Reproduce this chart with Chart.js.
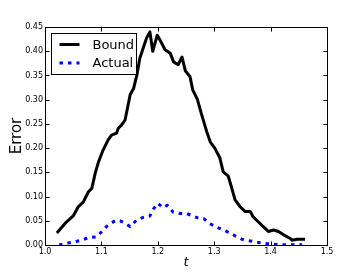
<!DOCTYPE html>
<html>
<head>
<meta charset="utf-8">
<script src="https://cdn.jsdelivr.net/npm/chart.js@4.4.0/dist/chart.umd.min.js"></script>
<style>
html, body { margin: 0; padding: 0; background: #fff; }
#wrap { width: 363px; height: 273px; }
</style>
</head>
<body>
<div id="wrap"><canvas id="c" width="363" height="273"></canvas></div>
<script>
// values
const boundT = [1.021, 1.036, 1.050, 1.059, 1.068, 1.077, 1.083, 1.089, 1.095, 1.103, 1.112, 1.118, 1.127, 1.130, 1.136,
    1.142, 1.151, 1.157, 1.163, 1.168, 1.174, 1.180, 1.186, 1.191, 1.199, 1.204, 1.213, 1.222, 1.228, 1.236, 1.243,
    1.249, 1.257, 1.262, 1.270, 1.278, 1.287, 1.293, 1.301, 1.310, 1.316, 1.325, 1.331, 1.337, 1.346, 1.355, 1.364,
    1.369, 1.378, 1.387, 1.396, 1.405, 1.414, 1.423, 1.434, 1.438, 1.447, 1.461];
const boundY = [0.025, 0.045, 0.060, 0.079, 0.089, 0.110, 0.117, 0.148, 0.172, 0.196, 0.217, 0.227, 0.231, 0.241, 0.248,
    0.258, 0.310, 0.323, 0.351, 0.385, 0.406, 0.427, 0.440, 0.400, 0.433, 0.423, 0.403, 0.396, 0.378, 0.372, 0.388,
    0.359, 0.348, 0.320, 0.301, 0.268, 0.233, 0.213, 0.200, 0.180, 0.151, 0.142, 0.118, 0.093, 0.079, 0.069, 0.069,
    0.058, 0.048, 0.038, 0.028, 0.031, 0.028, 0.021, 0.014, 0.010, 0.012, 0.012];

const actualT = [1.025, 1.041, 1.062, 1.077, 1.092, 1.101, 1.109, 1.117, 1.126, 1.133, 1.142, 1.151, 1.163, 1.174,
    1.186, 1.192, 1.200, 1.209, 1.217, 1.227, 1.239, 1.251, 1.260, 1.271, 1.282, 1.291, 1.302, 1.314, 1.326, 1.337,
    1.349, 1.361, 1.375, 1.393, 1.411, 1.429, 1.456];
const actualY = [0.000, 0.004, 0.009, 0.015, 0.017, 0.028, 0.038, 0.045, 0.051, 0.050, 0.045, 0.038, 0.052, 0.057,
    0.060, 0.074, 0.086, 0.077, 0.082, 0.068, 0.065, 0.065, 0.061, 0.056, 0.054, 0.045, 0.038, 0.032, 0.026, 0.019,
    0.012, 0.009, 0.006, 0.003, 0.001, 0.0004, 0.0004];

const xTicks = [1.0, 1.1, 1.2, 1.3, 1.4, 1.5];
const yTicks = [0.00, 0.05, 0.10, 0.15, 0.20, 0.25, 0.30, 0.35, 0.40, 0.45];

const seriesNames = ['Bound', 'Actual'];
const seriesColors = ['#000000', '#0000ff'];
const dotDash = [3.5, 5];

// frame, inward ticks (matplotlib style) and the boxed legend
const mplDecor = {
    id: 'mplDecor',
    afterDraw(chart) {
        const ctx = chart.ctx;
        const a = chart.chartArea;
        const xs = chart.scales.x, ys = chart.scales.y;
        const L = Math.round(a.left) + 0.5, R = Math.round(a.right) + 0.5;
        const T = Math.round(a.top) + 0.5, B = Math.round(a.bottom) + 0.5;
        ctx.save();
        ctx.strokeStyle = '#000';
        ctx.lineWidth = 1;
        ctx.strokeRect(L, T, R - L, B - T);
        ctx.beginPath();
        xTicks.forEach(v => {
            const px = Math.round(xs.getPixelForValue(v)) + 0.5;
            ctx.moveTo(px, B); ctx.lineTo(px, B - 4);
            ctx.moveTo(px, T); ctx.lineTo(px, T + 4);
        });
        yTicks.forEach(v => {
            const py = Math.round(ys.getPixelForValue(v)) + 0.5;
            ctx.moveTo(L, py); ctx.lineTo(L + 4, py);
            ctx.moveTo(R, py); ctx.lineTo(R - 4, py);
        });
        ctx.stroke();

        // legend
        const bx = L + 6, by = T + 6, bw = 85, bh = 41;
        ctx.fillStyle = '#fff';
        ctx.fillRect(bx, by, bw, bh);
        ctx.strokeRect(bx, by, bw, bh);
        ctx.font = '13px "DejaVu Sans"';
        ctx.textBaseline = 'middle';
        seriesNames.forEach((name, i) => {
            const y = by + 11 + i * 18.5;
            ctx.beginPath();
            ctx.strokeStyle = seriesColors[i];
            ctx.lineWidth = 3;
            ctx.setLineDash(i === 1 ? dotDash : []);
            ctx.moveTo(bx + 8, y);
            ctx.lineTo(bx + 28, y);
            ctx.stroke();
            ctx.setLineDash([]);
            ctx.fillStyle = '#000';
            ctx.fillText(name, bx + 41, y + 1);
        });
        ctx.restore();
    }
};

const toPoints = (ts, ys) => ts.map((t, i) => ({ x: t, y: ys[i] }));

new Chart(document.getElementById('c'), {
    type: 'line',
    data: {
        datasets: [
            { label: seriesNames[0], data: toPoints(boundT, boundY), borderColor: seriesColors[0], borderWidth: 3, borderJoinStyle: 'round', pointRadius: 0, tension: 0, fill: false },
            { label: seriesNames[1], data: toPoints(actualT, actualY), borderColor: seriesColors[1], borderWidth: 3, borderJoinStyle: 'round', borderDash: dotDash, pointRadius: 0, tension: 0, fill: false },
        ]
    },
    options: {
        responsive: false, animation: false, devicePixelRatio: 1,
        layout: { padding: { left: 0, top: 27, right: 36, bottom: 0 } },
        plugins: { legend: { display: false }, tooltip: { enabled: false } },
        scales: {
            x: {
                type: 'linear', min: 1.0, max: 1.5,
                afterBuildTicks: s => { s.ticks = xTicks.map(v => ({ value: v })); },
                afterFit: s => { s.height = 28; },
                grid: { display: false, drawTicks: false },
                border: { display: false },
                ticks: { padding: 2, color: '#000', font: { family: 'DejaVu Sans', size: 8 }, callback: v => v.toFixed(1), maxRotation: 0 },
                title: { display: true, text: 't', color: '#000', font: { family: 'DejaVu Sans', size: 13, style: 'italic' }, padding: { top: 0, bottom: 3 } }
            },
            y: {
                type: 'linear', min: 0, max: 0.45,
                afterBuildTicks: s => { s.ticks = yTicks.map(v => ({ value: v })); },
                afterFit: s => { s.width = 45; },
                grid: { display: false, drawTicks: false },
                border: { display: false },
                ticks: { padding: 2, color: '#000', font: { family: 'DejaVu Sans', size: 8 }, callback: v => v.toFixed(2) },
                title: { display: true, text: 'Error', color: '#000', font: { family: 'DejaVu Sans', size: 15 }, padding: { top: 8, bottom: 0 } }
            }
        }
    },
    plugins: [mplDecor]
});
</script>
</body>
</html>
